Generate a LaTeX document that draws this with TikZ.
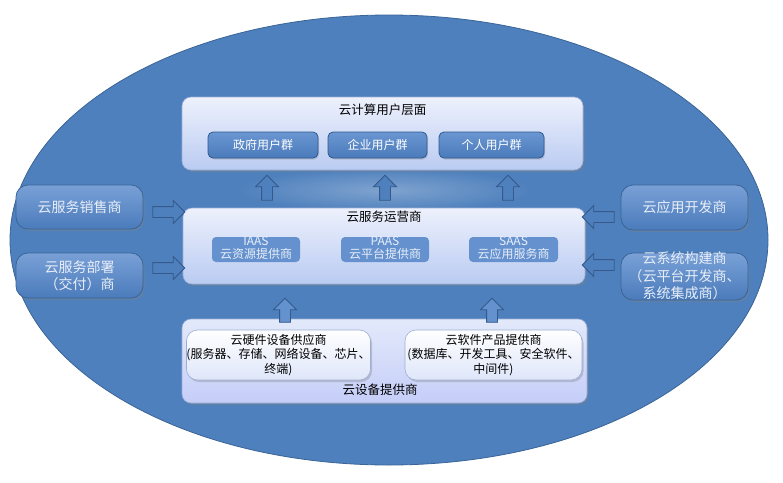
\documentclass[tikz,border=0pt]{standalone}
\usepackage{fontspec}
\setmainfont{Noto Sans CJK SC}
\usetikzlibrary{shapes.arrows,shapes.geometric,shadows}
\definecolor{ellfill}{HTML}{4E80BD}
\definecolor{ellline}{HTML}{3A6496}
\definecolor{btnline}{HTML}{2F5A8E}
\definecolor{btntop}{HTML}{6A96D2}
\definecolor{btnbot}{HTML}{4B7BBB}
\definecolor{paneltop}{HTML}{EDF1FC}
\definecolor{panelbot}{HTML}{BACBF2}
\definecolor{panelline}{HTML}{9CAED6}
\definecolor{lighttext}{HTML}{E8EEF8}
\definecolor{arrline}{HTML}{34598A}
\tikzset{
  panel/.style={rounded corners=9pt, draw=panelline, line width=0.6pt,
    top color=paneltop, bottom color=panelbot,
    drop shadow={opacity=0.35, shadow xshift=1.5pt, shadow yshift=-2pt},
    inner sep=0pt},
  btn/.style={rounded corners=5pt, draw=btnline, line width=0.8pt,
    top color=btntop, bottom color=btnbot, text=white,
    font=\fontsize{12}{14}\selectfont, inner sep=0pt,
    drop shadow={opacity=0.3, shadow xshift=1pt, shadow yshift=-1.5pt}},
  svcbox/.style={rounded corners=4pt, fill=btntop!85!btnbot, draw=none,
    text=lighttext, font=\fontsize{12}{12.5}\selectfont, inner sep=0pt,
    align=center},
  sidebox/.style={rounded corners=12pt, draw=ellline, line width=0.8pt,
    top color=btntop!90!white, bottom color=btnbot, text=lighttext,
    font=\fontsize{14}{17}\selectfont, inner sep=0pt, align=center,
    minimum width=127pt,
    drop shadow={opacity=0.35, shadow xshift=1.5pt, shadow yshift=-2pt}},
  whitebox/.style={rounded corners=11pt, draw=panelline, line width=0.6pt,
    top color=white, bottom color=paneltop!70!panelbot, text=black,
    font=\fontsize{12}{14.5}\selectfont, inner sep=0pt, align=center,
    drop shadow={opacity=0.35, shadow xshift=1.5pt, shadow yshift=-2pt}},
  title/.style={font=\fontsize{12.5}{14}\selectfont, text=black, inner sep=0pt},
  blockarrow/.style={single arrow, draw=arrline, line width=0.9pt, fill=ellfill,
    inner sep=5pt, single arrow head extend=6pt,
    single arrow tip angle=90, minimum height=#1},
}
\begin{document}
\begin{tikzpicture}[x=1pt,y=-1pt]
\useasboundingbox (0,0) rectangle (783,482);
% background ellipse
\node[ellipse, draw=ellline, line width=0.8pt, fill=ellfill, minimum width=758pt,
      minimum height=450pt, inner sep=0pt] (world) at (389,240) {};
% soft glow behind the upper arrows
\shade[inner color=white!35!ellfill, outer color=ellfill, opacity=0.8]
  (385,190) ellipse [x radius=150pt, y radius=22pt];

% user layer
\node[panel, minimum width=401pt, minimum height=73pt] (users) at (382.5,133.5) {};
\node[title] (userst) at (382.5,110) {云计算用户层面};
\node[btn, minimum width=110pt, minimum height=26pt] (gov) at (263,145) {政府用户群};
\node[btn, minimum width=99pt, minimum height=26pt] (ent) at (377.5,145) {企业用户群};
\node[btn, minimum width=105pt, minimum height=26pt] (per) at (491.5,145) {个人用户群};

% operator layer
\node[panel, minimum width=402pt, minimum height=76pt] (ops) at (384,246) {};
\node[title] (opst) at (384,217) {云服务运营商};
\node[svcbox, minimum width=88pt, minimum height=25pt] (iaas) at (256,249.5) {};
\node[svcbox, minimum width=88pt, minimum height=25pt] (paas) at (385,249.5) {};
\node[svcbox, minimum width=89pt, minimum height=25pt] (saas) at (513.5,249.5) {};
\node[svcbox, fill=none, text=lighttext] (iaast) at (256,248) {IAAS\\云资源提供商};
\node[svcbox, fill=none, text=lighttext] (paast) at (385,248) {PAAS\\云平台提供商};
\node[svcbox, fill=none, text=lighttext] (saast) at (513.5,248) {SAAS\\云应用服务商};

% up arrows between operator and users
\node[blockarrow=25pt, shape border rotate=90] (a1) at (267,190.5) {};
\node[blockarrow=25pt, shape border rotate=90] (a2) at (385,190.5) {};
\node[blockarrow=25pt, shape border rotate=90] (a3) at (508,190.5) {};

% equipment layer
\node[panel, top color=paneltop!80!panelbot, bottom color=panelbot!85!blue!60!white,
      minimum width=405pt, minimum height=84pt] (equip) at (384.5,361) {};
\node[title] (equipt) at (380,390) {云设备提供商};
\node[blockarrow=24pt, shape border rotate=90, fill=btntop!80!ellfill] (b1) at (285,313) {};
\node[blockarrow=24pt, shape border rotate=90, fill=btntop!80!ellfill] (b2) at (492,313) {};
\node[whitebox, minimum width=183pt, minimum height=50pt] (hw) at (278.5,355)
  {云硬件设备供应商\\(服务器、存储、网络设备、芯片、\\终端)};
\node[whitebox, minimum width=177pt, minimum height=50pt] (sw) at (493.5,355)
  {云软件产品提供商\\(数据库、开发工具、安全软件、\\中间件)};

% left side
\node[sidebox, minimum height=44pt] (sales) at (79.5,207) {云服务销售商};
\node[sidebox, minimum height=45pt] (deploy) at (79.5,275.5) {云服务部署\\（交付）商};
\node[blockarrow=32pt] (l1) at (166,212) {};
\node[blockarrow=32pt] (l2) at (166,268) {};

% right side
\node[sidebox, minimum height=45pt] (appdev) at (684.5,207.5) {云应用开发商};
\node[sidebox, minimum height=47pt] (sysb) at (684.5,276.5) {};
\node[font=\fontsize{14}{17.5}\selectfont, text=lighttext, align=center, inner sep=0pt]
  (sysbt) at (684.5,276) {云系统构建商\\（云平台开发商、\\系统集成商）};
\node[blockarrow=32pt, shape border rotate=180] (r1) at (601,217) {};
\node[blockarrow=32pt, shape border rotate=180] (r2) at (601,265) {};
\end{tikzpicture}
\end{document}
